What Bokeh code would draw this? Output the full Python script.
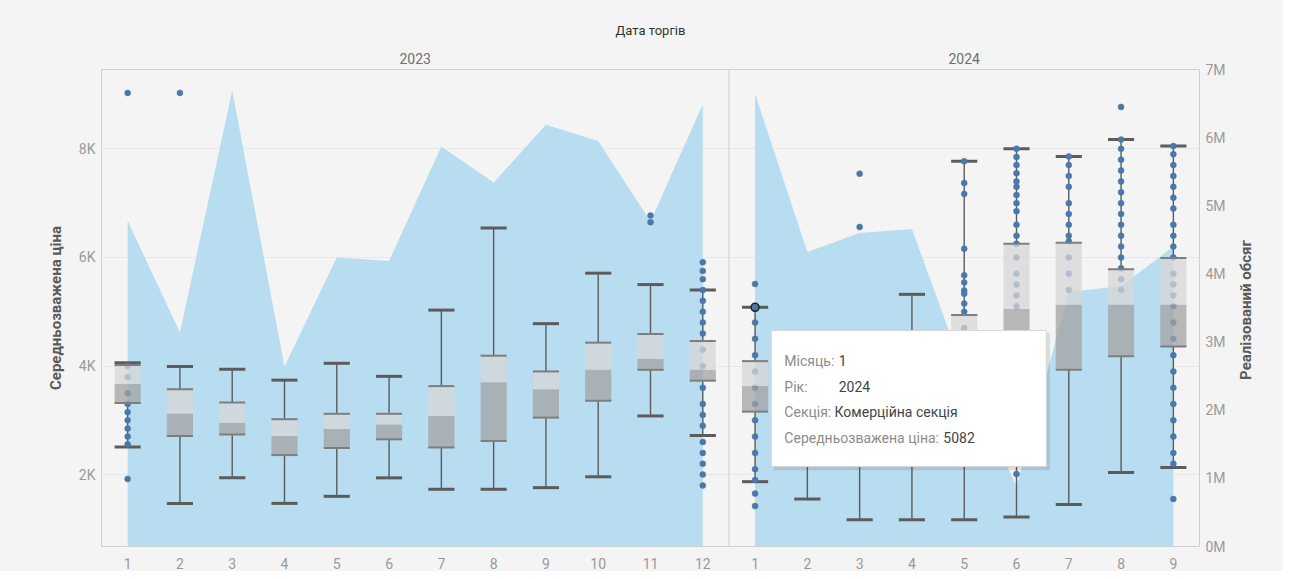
import math
from bokeh.plotting import figure
from bokeh.layouts import row
from bokeh.models import Range1d, LinearAxis, FixedTicker, Span
from bokeh.embed import file_html
from bokeh.resources import INLINE
from bokeh.core.properties import value

# ---------------- data ----------------
months_2023 = [1, 2, 3, 4, 5, 6, 7, 8, 9, 10, 11, 12]
months_2024 = [1, 2, 3, 4, 5, 6, 7, 8, 9]

# Реалізований обсяг (area, right axis)
volume_2023 = [4.78e6, 3.14e6, 6.69e6, 2.64e6, 4.24e6, 4.19e6, 5.87e6, 5.34e6, 6.19e6, 5.95e6, 4.77e6, 6.49e6]
volume_2024 = [6.64e6, 4.32e6, 4.60e6, 4.66e6, 2.55e6, 0.88e6, 3.74e6, 3.82e6, 4.40e6]

# Середньозважена ціна (box plots, left axis)
low_2023 = [2510, 1470, 1940, 1470, 1600, 1940, 1730, 1730, 1760, 1960, 3080, 2720]
q1_2023 = [3320, 2710, 2740, 2360, 2490, 2650, 2500, 2620, 3050, 3360, 3930, 3730]
med_2023 = [3670, 3120, 2950, 2710, 2840, 2920, 3080, 3700, 3570, 3930, 4130, 3930]
q3_2023 = [4020, 3570, 3330, 3020, 3120, 3120, 3630, 4190, 3900, 4430, 4590, 4460]
high_2023 = [4060, 3990, 3940, 3740, 4050, 3810, 5030, 6540, 4780, 5710, 5500, 5400]

low_2024 = [1870, 1550, 1170, 1170, 1170, 1220, 1450, 2040, 2130]
q1_2024 = [3160, 3000, 2800, 2900, 3000, 3900, 3930, 4180, 4360]
med_2024 = [3630, 3400, 3300, 3500, 3900, 5050, 5130, 5130, 5130]
q3_2024 = [4090, 3900, 3800, 4100, 4940, 6250, 6270, 5780, 5990]
high_2024 = [5082, 4550, 4500, 5320, 7770, 8000, 7860, 8170, 8050]

points_2023 = {
    1: [9030, 1920, 2560, 2700, 2850, 3000, 3150, 3300, 3500, 3800, 4000],
    2: [9030],
    11: [6770, 6650],
    12: [5910, 5750, 5600, 5400, 5200, 5000, 4800, 4600, 4300, 4000, 3600, 3300, 3100,
         2900, 2600, 2400, 2200, 2000, 1800],
}
points_2024 = {
    1: [5510, 5082, 4800, 4500, 4200, 3900, 3600, 3300, 3000, 2700, 2400, 2100, 1900, 1650, 1420],
    3: [7540, 6560],
    5: [7770, 7370, 7170, 6160, 5670, 5540, 5390, 5330, 5150, 5000, 4700, 4400],
    6: [8000, 7850, 7700, 7550, 7400, 7300, 7150, 7000, 6850, 6600, 6400, 6250, 6000, 5700, 5500,
        5300, 5100, 2010],
    7: [7860, 7700, 7500, 7300, 7000, 6800, 6600, 6400, 6300, 6000, 5700, 5400],
    8: [8770, 8170, 8000, 7800, 7600, 7400, 7200, 7000, 6800, 6600, 6400, 6200, 6000, 5800, 5600, 5400],
    9: [8050, 7900, 7700, 7500, 7300, 7100, 6900, 6600, 6400, 6200, 6000, 5700, 5500, 5300, 5100,
        4800, 4500, 4200, 3900, 3600, 3300, 3000, 2700, 2400, 2200, 1550],
}

years = ["2023", "2024"]
price_ticks = [2000, 4000, 6000, 8000]
price_tick_labels = ["2K", "4K", "6K", "8K"]
volume_ticks = [0, 1e6, 2e6, 3e6, 4e6, 5e6, 6e6, 7e6]
volume_tick_labels = ["0M", "1M", "2M", "3M", "4M", "5M", "6M", "7M"]
volume_title = "Реалізований обсяг"
price_title = "Середньозважена ціна"
date_title = "Дата торгів"

tooltip_labels = ["Місяць:", "Рік:", "Секція:", "Середньозважена ціна:"]
tooltip_values = ["1", "2024", "Комерційна секція", "5082"]
highlight_month_2024 = 1
highlight_price = 5082

# ---------------- layout helpers ----------------
n23 = len(months_2023)
x23 = [float(m) for m in months_2023]
x24 = [float(n23 + m) for m in months_2024]
x_all = x23 + x24
n_slots = n23 + len(months_2024)

FONT = "Roboto"
AREA = "#b8dcf0"
BG = "#f4f4f4"
DOT = "#4a78ab"
WHISK = "#5c5c5c"
H = 571

p = figure(width=1230, height=H,
           x_range=Range1d(0.5, n_slots + 0.5),
           y_range=Range1d(676, 9461),
           output_backend="svg", toolbar_location=None,
           min_border_left=101, min_border_right=31, min_border_top=69, min_border_bottom=25,
           background_fill_color=BG, border_fill_color=BG,
           outline_line_color="#d0d0d0", outline_line_width=1)
p.extra_y_ranges = {"vol": Range1d(0, 7e6)}

# ---------------- area ----------------
p.varea(x=x23, y1=0, y2=volume_2023, y_range_name="vol", fill_color=AREA, fill_alpha=1)
p.varea(x=x24, y1=0, y2=volume_2024, y_range_name="vol", fill_color=AREA, fill_alpha=1)

# ---------------- boxes ----------------
low = low_2023 + low_2024
q1 = q1_2023 + q1_2024
med = med_2023 + med_2024
q3 = q3_2023 + q3_2024
high = high_2023 + high_2024
hw = 0.25
xl = [x - hw for x in x_all]
xr = [x + hw for x in x_all]

p.segment(x0=x_all, y0=q3, x1=x_all, y1=high, line_color=WHISK, line_width=1.4)
p.segment(x0=x_all, y0=low, x1=x_all, y1=q1, line_color=WHISK, line_width=1.4)
p.segment(x0=xl, y0=high, x1=xr, y1=high, line_color=WHISK, line_width=3)
p.segment(x0=xl, y0=low, x1=xr, y1=low, line_color=WHISK, line_width=3)

# points
px, py = [], []
for m, vals in points_2023.items():
    px += [x23[months_2023.index(m)]] * len(vals)
    py += vals
for m, vals in points_2024.items():
    px += [x24[months_2024.index(m)]] * len(vals)
    py += vals
p.scatter(x=px, y=py, size=6, fill_color=DOT, line_color=DOT, line_width=0.5)

p.vbar(x=x_all, width=2 * hw, bottom=med, top=q3, fill_color="#d6d6d6", fill_alpha=0.74, line_color=None)
p.vbar(x=x_all, width=2 * hw, bottom=q1, top=med, fill_color="#a2a2a2", fill_alpha=0.74, line_color=None)
p.segment(x0=xl, y0=q3, x1=xr, y1=q3, line_color="#7e7e7e", line_width=2)
p.segment(x0=xl, y0=q1, x1=xr, y1=q1, line_color="#7e7e7e", line_width=2)

# highlighted point
p.scatter(x=[x24[months_2024.index(highlight_month_2024)]], y=[highlight_price], size=8,
          fill_color=DOT, line_color="#222222", line_width=1.5)

# divider between years
p.add_layout(Span(location=n23 + 0.5, dimension="height", line_color="#cfcfcf", line_width=1))

# ---------------- tooltip ----------------
tt_left, tt_right, tt_top, tt_bottom = 13.31, 18.57, 4654, 2149
p.quad(left=tt_left + 0.04, right=tt_right + 0.07, top=tt_top - 40, bottom=tt_bottom - 70,
       fill_color="#000000", fill_alpha=0.10, line_color=None)
p.quad(left=tt_left, right=tt_right, top=tt_top, bottom=tt_bottom,
       fill_color="#ffffff", line_color="#d6d6d6", line_width=1)
tt_y = [4101, 3622, 3162, 2683]
p.text(x=[13.56] * 4, y=tt_y, text=tooltip_labels, text_font=value(FONT), text_font_size="14px",
       text_color="#8c8c8c", text_baseline="middle", text_align="left")
p.text(x=[14.60, 14.60, 14.52, 16.60], y=tt_y, text=tooltip_values, text_font=value(FONT),
       text_font_size="14px", text_color="#444444", text_baseline="middle", text_align="left")

# ---------------- axes ----------------
p.xgrid.grid_line_color = None
p.ygrid.ticker = FixedTicker(ticks=price_ticks)
p.ygrid.grid_line_color = "#e8e8e8"


def style_axis(ax, standoff):
    ax.axis_line_color = None
    ax.major_tick_line_color = None
    ax.minor_tick_line_color = None
    ax.major_tick_out = 0
    ax.major_tick_in = 0
    ax.minor_tick_out = 0
    ax.major_label_standoff = standoff
    ax.major_label_text_color = "#9a9a9a"
    ax.major_label_text_font = FONT
    ax.major_label_text_font_size = "14px"
    ax.axis_label_text_font = FONT


xa = p.xaxis[0]
xa.ticker = FixedTicker(ticks=x_all)
xa.major_label_overrides = {x: str(m) for x, m in zip(x_all, months_2023 + months_2024)}
style_axis(xa, 11)

ya = p.yaxis[0]
ya.ticker = FixedTicker(ticks=price_ticks)
ya.major_label_overrides = dict(zip(price_ticks, price_tick_labels))
style_axis(ya, 6)
ya.axis_label = price_title
ya.axis_label_text_font_style = "bold"
ya.axis_label_text_font_size = "15px"
ya.axis_label_text_color = "#5a5a5a"
ya.axis_label_standoff = 11

ra = LinearAxis(y_range_name="vol", ticker=FixedTicker(ticks=volume_ticks),
                major_label_overrides=dict(zip(volume_ticks, volume_tick_labels)))
style_axis(ra, 6)
p.add_layout(ra, "right")

year_pos = [(x23[0] + x23[-1]) / 2, (x24[0] + x24[-1]) / 2]
ta = LinearAxis(ticker=FixedTicker(ticks=year_pos),
                major_label_overrides=dict(zip(year_pos, years)))
style_axis(ta, 6)
ta.major_label_text_color = "#707070"
ta.axis_label = date_title
ta.axis_label_text_font_style = "normal"
ta.axis_label_text_font_size = "13px"
ta.axis_label_text_color = "#333333"
ta.axis_label_standoff = 12
p.add_layout(ta, "above")

# ---------------- right title strip (text reads bottom-to-top) ----------------
W2 = 53
p2 = figure(width=W2, height=H, x_range=Range1d(0, W2), y_range=Range1d(0, H),
            output_backend="svg", toolbar_location=None,
            x_axis_location=None, y_axis_location=None,
            min_border=0, min_border_left=0, min_border_right=0, min_border_top=0, min_border_bottom=0,
            background_fill_color=BG, border_fill_color=BG, outline_line_color=None)
p2.grid.visible = False
p2.text(x=[15], y=[H - 288], text=[volume_title], angle=math.pi / 2,
        text_font=value(FONT), text_font_size="15px", text_font_style="bold",
        text_color="#5a5a5a", text_align="center", text_baseline="middle")

layout = row(p, p2, spacing=0, styles={"background-color": BG})
open("out.html", "w").write(file_html(layout, INLINE))
